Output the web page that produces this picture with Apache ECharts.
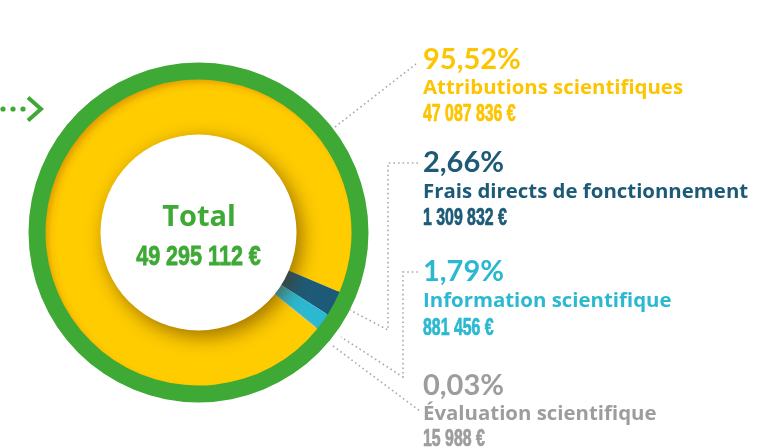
<!DOCTYPE html>
<html>
<head>
<meta charset="utf-8">
<style>
  html, body { margin: 0; padding: 0; background: #fff; }
  #chart { width: 779px; height: 448px; }
</style>
<script src="https://cdn.jsdelivr.net/npm/echarts@6/dist/echarts.min.js"></script>
</head>
<body>
<div id="chart"></div>
<script>
// données
var categories = ['Attributions scientifiques', 'Frais directs de fonctionnement', 'Information scientifique', 'Évaluation scientifique'];
var amounts = [47087836, 1309832, 881456, 15988];
var totalLabel = 'Total';

var colors = ['#fdc400', '#1c5a78', '#2bb8d1', '#9d9d9d'];
var green = '#3ea935';

var total = amounts.reduce(function (a, b) { return a + b; }, 0);

function euro(v) {
  return String(v).replace(/\B(?=(\d{3})+(?!\d))/g, ' ') + ' €';
}
function pct(v) {
  return (v / total * 100).toFixed(2).replace('.', ',') + '%';
}

var myChart = echarts.init(document.getElementById('chart'));

var cx = 198.5, cy = 232.5;

// ombre intérieure de l'anneau vert sur le jaune (décalée vers le bas à droite)
var yellowFill = new echarts.graphic.RadialGradient(0.515, 0.515, 0.53, [
  { offset: 0.9, color: '#ffcc00' },
  { offset: 0.935, color: '#fbc300' },
  { offset: 1, color: '#d39000' }
]);

var pieData = categories.map(function (name, i) {
  return {
    name: name,
    value: amounts[i],
    itemStyle: { color: i === 0 ? yellowFill : colors[i] }
  };
});

var nameFont = 'bold 20.4px "Open Sans"';
var pctFont = 'bold 29px Lato';
var numFont = 'bold 23px "Liberation Sans"';

// centres des lignes de texte (pourcentage, libellé, montant)
var rowY = [[60, 88, 115], [163, 192.5, 219], [271.5, 301.5, 328.5], [386, 414, 440]];
var labels = [];
categories.forEach(function (name, i) {
  var r = rowY[i];
  labels.push({
    type: 'text', x: 423, y: r[0],
    style: { text: pct(amounts[i]), fill: colors[i], font: pctFont, verticalAlign: 'middle' }
  });
  labels.push({
    type: 'text', x: 423, y: r[1],
    style: { text: name, fill: colors[i], font: nameFont, verticalAlign: 'middle' }
  });
  labels.push({
    type: 'text', x: 423, y: r[2], scaleX: 0.69,
    style: { text: euro(amounts[i]), fill: colors[i], font: numFont, verticalAlign: 'middle',
      stroke: colors[i], lineWidth: 0.7 }
  });
});

var dotted = { stroke: '#a9a9a9', lineWidth: 1.6, lineDash: [1.6, 3], fill: null };
var leaders = [
  [[335, 127], [416, 64]],
  [[418, 163], [388, 163], [388, 330], [350, 310]],
  [[418, 272], [403, 272], [403, 377], [341, 337]],
  [[333, 346], [420, 411]]
].map(function (pts) {
  return { type: 'polyline', shape: { points: pts }, style: dotted, silent: true };
});

var arrow = [
  { type: 'circle', shape: { cx: 3, cy: 109, r: 2.6 }, style: { fill: green } },
  { type: 'circle', shape: { cx: 13, cy: 109, r: 2.6 }, style: { fill: green } },
  { type: 'circle', shape: { cx: 23, cy: 109, r: 2.6 }, style: { fill: green } },
  { type: 'polyline', shape: { points: [[28, 97.5], [41, 109], [28, 120.5]] },
    style: { stroke: green, lineWidth: 4, fill: null, lineCap: 'butt', lineJoin: 'miter' } }
];

var center = [
  { type: 'text', x: 199, y: 218, z: 100,
    style: { text: totalLabel, fill: green, font: 'bold 29px "Open Sans"', align: 'center', verticalAlign: 'middle' } },
  { type: 'text', x: 198.5, y: 257, z: 100, scaleX: 0.77,
    style: { text: euro(total), fill: green, font: 'bold 28px "Liberation Sans"', align: 'center', verticalAlign: 'middle',
      stroke: green, lineWidth: 0.8 } }
];

var option = {
  animation: false,
  series: [
    {
      type: 'pie',
      silent: true,
      center: [cx, cy],
      radius: [151, 170],
      z: 1,
      label: { show: false },
      labelLine: { show: false },
      itemStyle: { color: green },
      data: [{ value: 1 }]
    },
    {
      type: 'pie',
      silent: true,
      center: [cx, cy],
      radius: [92, 153],
      startAngle: 321,
      clockwise: true,
      z: 2,
      label: { show: false },
      labelLine: { show: false },
      itemStyle: { borderWidth: 0 },
      data: pieData
    },
    {
      type: 'pie',
      silent: true,
      center: [cx, cy],
      radius: [0, 98],
      z: 3,
      label: { show: false },
      labelLine: { show: false },
      itemStyle: {
        color: '#fff',
        shadowBlur: 20,
        shadowOffsetX: 5,
        shadowOffsetY: 6,
        shadowColor: 'rgba(90,50,0,0.6)'
      },
      data: [{ value: 1 }]
    }
  ],
  graphic: { elements: leaders.concat(arrow, labels, center) }
};

myChart.setOption(option, true);
</script>
</body>
</html>
